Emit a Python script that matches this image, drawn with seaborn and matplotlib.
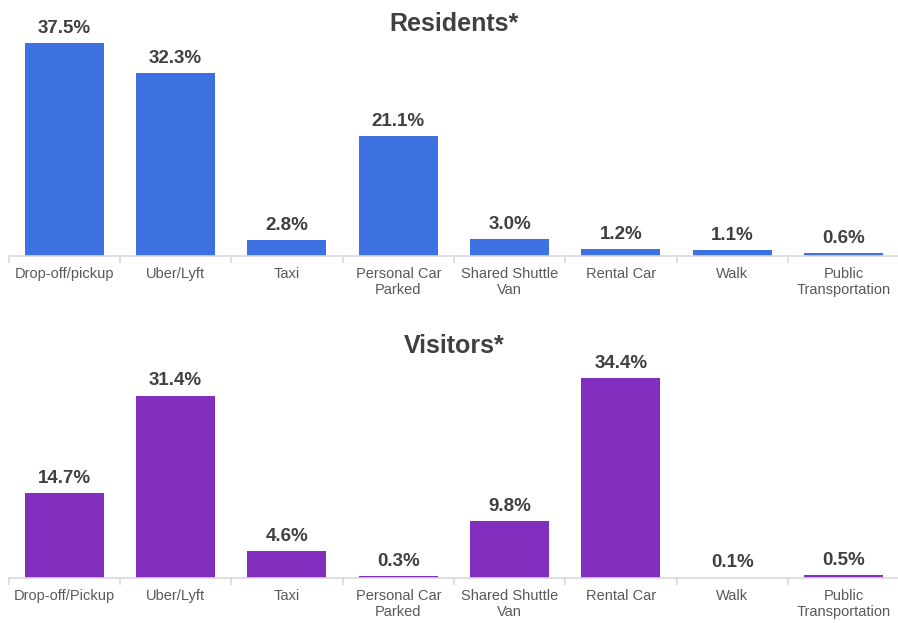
import matplotlib
matplotlib.use("Agg")
import matplotlib.pyplot as plt
import numpy as np
import pandas as pd
import seaborn as sns

# Data
res_modes = ["Drop-off/pickup", "Uber/Lyft", "Taxi", "Personal Car\nParked",
             "Shared Shuttle\nVan", "Rental Car", "Walk", "Public\nTransportation"]
res_share = [37.5, 32.3, 2.8, 21.1, 3.0, 1.2, 1.1, 0.6]

vis_modes = ["Drop-off/Pickup", "Uber/Lyft", "Taxi", "Personal Car\nParked",
             "Shared Shuttle\nVan", "Rental Car", "Walk", "Public\nTransportation"]
vis_share = [14.7, 31.4, 4.6, 0.3, 9.8, 34.4, 0.1, 0.5]

sns.set_style("white")
plt.rcParams["font.family"] = ["Liberation Sans", "DejaVu Sans"]

BLUE = "#3D70E0"
PURPLE = "#822EBE"
AXIS_GREY = "#D9D9D9"


def draw_panel(ax, modes, values, color, title, ymax):
    df = pd.DataFrame({"mode": modes, "share": values})
    sns.barplot(data=df, x="mode", y="share", color=color, width=0.71,
                saturation=1, linewidth=0, ax=ax)
    ax.set_ylim(0, ymax)
    ax.set_xlim(-0.5, len(modes) - 0.5)

    for spine in ["top", "right", "left"]:
        ax.spines[spine].set_visible(False)
    ax.spines["bottom"].set_color(AXIS_GREY)
    ax.spines["bottom"].set_linewidth(1.2)

    ax.set_yticks([])
    ax.set_xlabel("")
    ax.set_ylabel("")
    # labels at centers, tick marks between categories
    ax.tick_params(axis="x", which="major", bottom=False, length=0, pad=8,
                   labelsize=10.5, labelcolor="#595959")
    ax.set_xticks(np.arange(-0.5, len(modes)), minor=True)
    ax.tick_params(axis="x", which="minor", bottom=True, length=5,
                   color=AXIS_GREY, width=1.2)
    for lab in ax.get_xticklabels():
        lab.set_linespacing(1.2)

    for i, v in enumerate(values):
        ax.text(i, v + ymax * 0.027, f"{v:.1f}%", ha="center", va="bottom",
                fontsize=13.5, fontweight="bold", color="#404040")

    ax.set_title(title, fontsize=18, fontweight="bold", color="#404040", pad=-1)


fig = plt.figure(figsize=(8.98, 6.23), dpi=100)
ax_top = fig.add_axes([0.0095, 0.589, 0.992, 0.364])
ax_bot = fig.add_axes([0.0095, 0.072, 0.992, 0.364])

draw_panel(ax_top, res_modes, res_share, BLUE, "Residents*", 40)
draw_panel(ax_bot, vis_modes, vis_share, PURPLE, "Visitors*", 39)

fig.savefig("out.png", dpi=100)
